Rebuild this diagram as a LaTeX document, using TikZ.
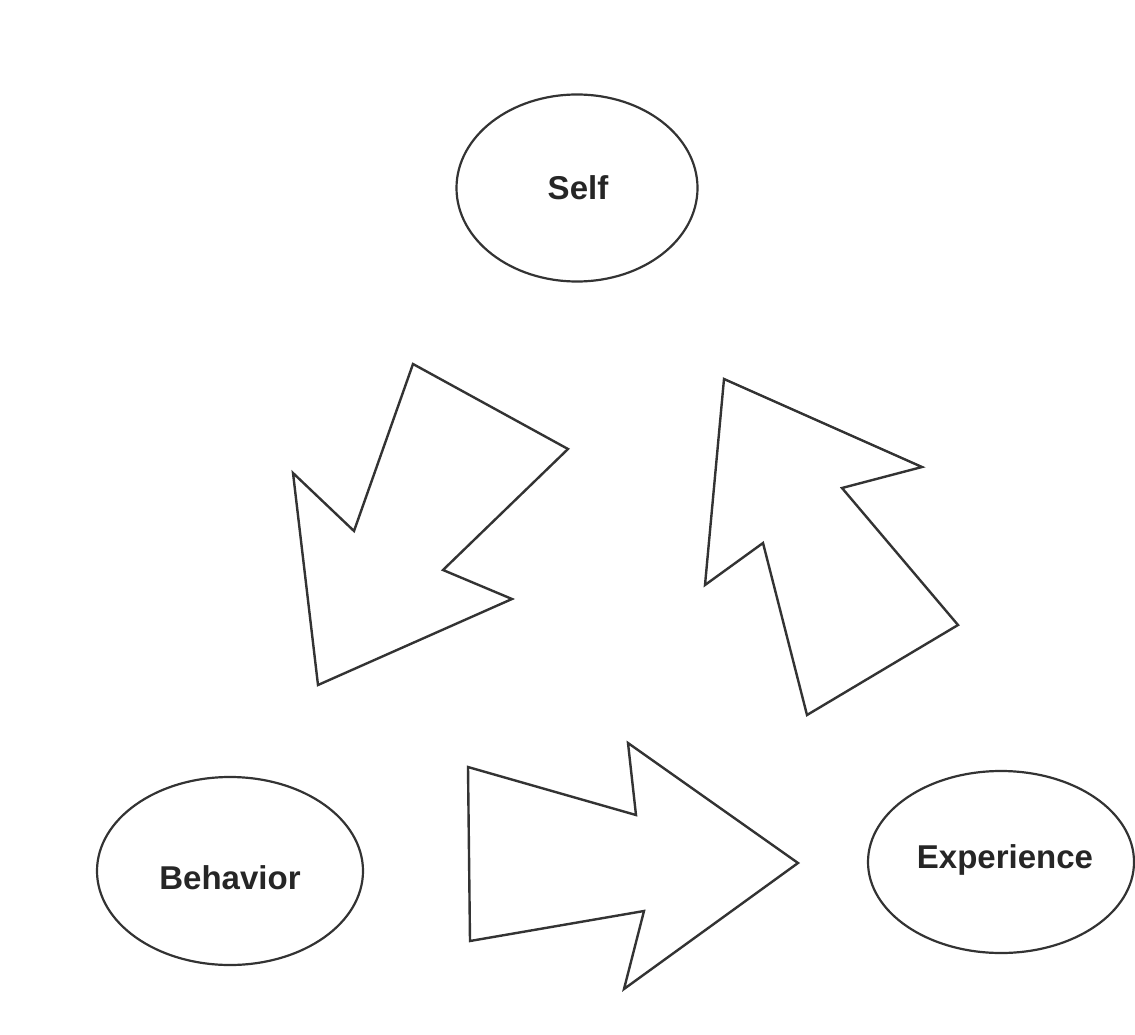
\documentclass[tikz,border=0pt]{standalone}
\usepackage{fontspec}
\setmainfont{Liberation Sans}
\usetikzlibrary{shapes.geometric}
\begin{document}
\begin{tikzpicture}[x=1pt,y=-1pt,
  oval/.style={ellipse,draw=black!80,line width=2.2pt,inner sep=0pt},
  lbl/.style={font=\fontsize{33}{33}\selectfont\bfseries,text=black!85,inner sep=0pt},
  blockarrow/.style={draw=black!80,line width=2.4pt,line join=miter,fill=white}]
\useasboundingbox (0,0) rectangle (1135,1035);
\node[oval,minimum width=241pt,minimum height=187pt] (self) at (577,188) {};
\node[lbl] (selftext) at (578,188) {Self};
\node[oval,minimum width=266pt,minimum height=188pt] (behavior) at (230,871) {};
\node[lbl] (behaviortext) at (230,878) {Behavior};
\node[oval,minimum width=266pt,minimum height=182pt] (experience) at (1001,862) {};
\node[lbl] (experiencetext) at (1005,860) {Experience};
% arrow from Self to Behavior
\draw[blockarrow] (413,364) -- (568,449) -- (443,570) -- (512,599) -- (318,685) -- (293,473) -- (354,531) -- cycle;
% arrow from Experience to Self
\draw[blockarrow] (724,379) -- (922,467) -- (842,488) -- (958,625) -- (807,715) -- (763,543) -- (705,585) -- cycle;
% arrow from Behavior to Experience
\draw[blockarrow] (468,767) -- (636,815) -- (628,743) -- (798,863) -- (624,989) -- (644,911) -- (470,941) -- cycle;
\end{tikzpicture}
\end{document}
